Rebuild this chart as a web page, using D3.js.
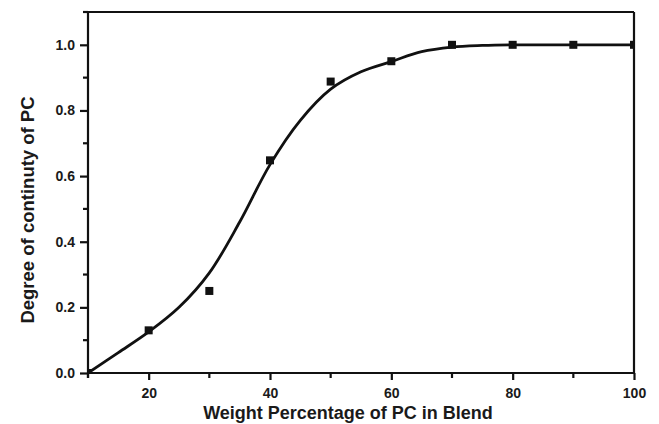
<!DOCTYPE html>
<html>
<head>
<meta charset="utf-8">
<script src="https://cdn.jsdelivr.net/npm/d3@7"></script>
<style>
  html, body { margin: 0; padding: 0; background: #fff; }
  svg { display: block; font-family: "Liberation Sans", Arial, sans-serif; }
</style>
</head>
<body>
<svg id="chart" width="659" height="424"></svg>
<script>
// Measured points: weight % of PC vs degree of continuity
const pcWeight = [10, 20, 30, 40, 50, 60, 70, 80, 90, 100];
const continuity = [0.0, 0.13, 0.25, 0.648, 0.888, 0.95, 1.0, 1.0, 1.0, 1.0];

// Fitted sigmoidal curve, sampled along x
const fitX = [10, 15, 20, 25, 30, 35, 40, 45, 50, 55, 60, 65, 70, 75, 80, 90, 100];
const fitY = [0.0, 0.062, 0.125, 0.20, 0.305, 0.46, 0.635, 0.77, 0.865, 0.918, 0.949, 0.979, 0.993, 0.998, 1.0, 1.0, 1.0];

// Axis ticks
const xMajorTicks = [20, 40, 60, 80, 100];
const xMinorTicks = [10, 30, 50, 70, 90];
const yMajorTicks = [0.0, 0.2, 0.4, 0.6, 0.8, 1.0];
const yMinorTicks = [0.1, 0.3, 0.5, 0.7, 0.9, 1.1];

const xTitle = "Weight Percentage of PC in Blend";
const yTitle = "Degree of continuty of PC";

const svg = d3.select("#chart");
const plotL = 88, plotR = 634, plotT = 12, plotB = 373;

const x = d3.scaleLinear().domain([10, 100]).range([plotL, plotR]);
const y = d3.scaleLinear().domain([0, 1.1]).range([plotB, plotT]);

const ink = "#111";

// Clip region for the plot area
svg.append("defs").append("clipPath").attr("id", "plotClip")
  .append("rect")
  .attr("x", plotL).attr("y", plotT)
  .attr("width", plotR - plotL).attr("height", plotB - plotT);

// Fitted curve
const line = d3.line()
  .x((d, i) => x(fitX[i]))
  .y(d => y(d))
  .curve(d3.curveCatmullRom.alpha(0.5));

svg.append("path")
  .attr("clip-path", "url(#plotClip)")
  .attr("d", line(fitY))
  .attr("fill", "none")
  .attr("stroke", ink)
  .attr("stroke-width", 2.8)
  .attr("stroke-linejoin", "round");

// Square markers
const ms = 8;
svg.append("g").attr("clip-path", "url(#plotClip)")
  .selectAll("rect")
  .data(pcWeight)
  .join("rect")
  .attr("x", d => x(d) - ms / 2)
  .attr("y", (d, i) => y(continuity[i]) - ms / 2)
  .attr("width", ms)
  .attr("height", ms)
  .attr("fill", ink);

// Frame: top and right borders
svg.append("line")
  .attr("x1", plotL).attr("x2", plotR).attr("y1", plotT).attr("y2", plotT)
  .attr("stroke", ink).attr("stroke-width", 2.2);
svg.append("line")
  .attr("x1", plotR).attr("x2", plotR).attr("y1", plotT).attr("y2", plotB)
  .attr("stroke", ink).attr("stroke-width", 2.2);

// X axis (major labelled ticks + minor ticks)
const xAxis = svg.append("g").attr("transform", `translate(0,${plotB})`);
xAxis.call(d3.axisBottom(x).tickValues(xMajorTicks).tickSize(7).tickSizeOuter(0)
  .tickFormat(d3.format("d")).tickPadding(8));
xAxis.append("g").selectAll("line").data(xMinorTicks).join("line")
  .attr("x1", d => x(d)).attr("x2", d => x(d))
  .attr("y1", 0).attr("y2", 5);

// Y axis
const yAxis = svg.append("g").attr("transform", `translate(${plotL},0)`);
yAxis.call(d3.axisLeft(y).tickValues(yMajorTicks).tickSize(8).tickSizeOuter(0)
  .tickFormat(d3.format(".1f")).tickPadding(5));
yAxis.append("g").selectAll("line").data(yMinorTicks).join("line")
  .attr("x1", 0).attr("x2", -5)
  .attr("y1", d => y(d)).attr("y2", d => y(d));

[xAxis, yAxis].forEach(g => {
  g.select(".domain").attr("stroke", ink).attr("stroke-width", 2.2);
  g.selectAll("line").attr("stroke", ink).attr("stroke-width", 2.2);
  g.selectAll("text")
    .attr("fill", "#1a1a1a")
    .style("font-size", "14px")
    .style("font-weight", "bold");
});
// Extend axis lines slightly past the corner
xAxis.select(".domain").attr("d", `M${plotL - 1},0H${plotR + 1}`);
yAxis.select(".domain").attr("d", `M0,${plotB + 5}V${plotT - 1}`);

// Axis titles
svg.append("text")
  .attr("x", 348)
  .attr("y", 419)
  .attr("text-anchor", "middle")
  .attr("fill", "#1a1a1a")
  .style("font-size", "18px")
  .style("font-weight", "bold")
  .text(xTitle);

svg.append("text")
  .attr("transform", `translate(34,210) rotate(-90)`)
  .attr("text-anchor", "middle")
  .attr("fill", "#1a1a1a")
  .style("font-size", "18.5px")
  .style("font-weight", "bold")
  .text(yTitle);
</script>
</body>
</html>
